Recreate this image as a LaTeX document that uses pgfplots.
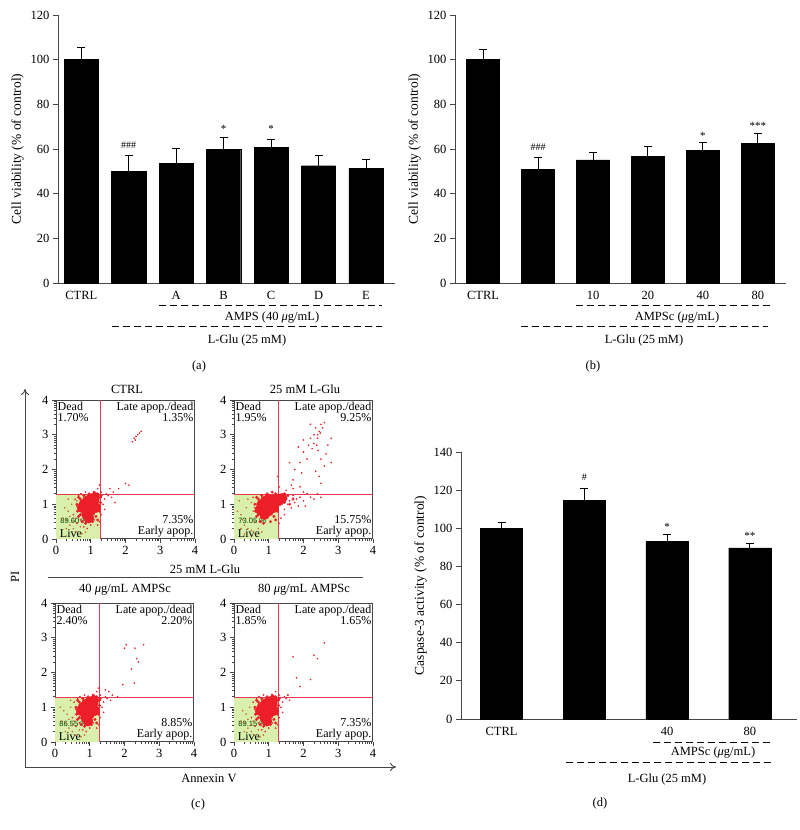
\documentclass[border=0pt]{standalone}
\usepackage{fontspec}
\setmainfont{Liberation Serif}
\newfontfamily\sansf{Liberation Sans}
\usepackage{pgfplots}
\pgfplotsset{compat=1.18}
\usetikzlibrary{arrows.meta}
\definecolor{qred}{RGB}{232,60,80}
\definecolor{dotred}{RGB}{238,30,40}
\definecolor{dotor}{RGB}{205,110,40}
\definecolor{livegreen}{RGB}{216,240,172}
\definecolor{axgray}{RGB}{70,70,70}
\newcommand{\mainfont}{\fontsize{12.5}{14}\selectfont}
\newcommand{\qfont}{\fontsize{12}{11.6}\selectfont}
\pgfplotsset{
  /pgf/number format/assume math mode=true,
  bars/.style={scale only axis, anchor=south west, ybar, ymin=0,
    axis x line=bottom, axis y line=left,
    axis line style={-, line width=0.9pt, axgray},
    tick align=outside, major tick length=5pt,
    ytick style={line width=0.9pt, axgray},
    xtick style={draw=none},
    clip=false,
    tick label style={font=\mainfont},
    label style={font=\fontsize{13.5}{15}\selectfont},
  },
  errb/.style={fill=black, draw=black,
    error bars/.cd, y dir=plus, y explicit,
    error bar style={line width=1pt, black},
    error mark options={rotate=90, mark size=4pt, line width=1pt, black}},
  facs/.style={scale only axis, anchor=south west, width=139pt, height=139pt,
    xmin=0, xmax=4, ymin=0, ymax=4,
    xtick={0,1,2,3,4}, ytick={0,1,2,3,4},
    minor xtick={0.301,0.477,0.602,0.699,0.778,0.845,0.903,0.954,1.301,1.477,1.602,1.699,1.778,1.845,1.903,1.954,2.301,2.477,2.602,2.699,2.778,2.845,2.903,2.954,3.301,3.477,3.602,3.699,3.778,3.845,3.903,3.954},
    minor ytick={0.301,0.477,0.602,0.699,0.778,0.845,0.903,0.954,1.301,1.477,1.602,1.699,1.778,1.845,1.903,1.954,2.301,2.477,2.602,2.699,2.778,2.845,2.903,2.954,3.301,3.477,3.602,3.699,3.778,3.845,3.903,3.954},
    tick pos=left, tick align=outside,
    major tick length=4pt, minor tick length=2.5pt,
    axis line style={line width=1pt, axgray},
    every tick/.style={axgray, line width=0.6pt},
    tick label style={font=\mainfont},
  },
  core/.style={only marks, mark=*, mark size=5pt, dotred, mark options={draw=none, fill=dotred}},
  fringe/.style={only marks, mark=*, mark size=1.3pt, dotred, mark options={draw=none, fill=dotred}},
  halo/.style={only marks, mark=*, mark size=0.6pt, dotred, mark options={draw=none, fill=dotred}},
  orng/.style={only marks, mark=*, mark size=0.6pt, dotor, mark options={draw=none, fill=dotor}},
}
\newcommand{\quadbase}{%
  \addplot[fill=livegreen, draw=none] coordinates {(0,0) (1.28,0) (1.28,1.28) (0,1.28)} \closedcycle;
}
\newcommand{\quadlines}[1]{%
  \draw[qred, line width=0.8pt] (axis cs:1.28,0) -- (axis cs:1.28,4);
  \draw[qred, line width=0.8pt] (axis cs:0,1.28) -- (axis cs:4,1.28);
  \draw[qred, line width=1.5pt] (axis cs:0,1.28) -- (axis cs:#1,1.28);
  \draw[qred, line width=1.4pt] (axis cs:1.28,0) -- (axis cs:1.28,1.75);
}
\newcommand{\quadlabels}[4]{%
  \node[anchor=north west, align=left, inner sep=1.5pt, font=\qfont] at (rel axis cs:0,1) {Dead\\#1\%};
  \node[anchor=north east, align=right, inner sep=1.5pt, font=\qfont] at (rel axis cs:1,1) {Late apop./dead\\#2\%};
  \node[anchor=south east, align=right, inner sep=1.5pt, font=\qfont] at (rel axis cs:1,0) {#3\%\\Early apop.};
  \node[anchor=south west, inner sep=1pt, font=\qfont] at (rel axis cs:0.02,0) {Live};
  \node[anchor=south west, inner sep=0pt, font=\sansf\fontsize{7.6}{8}\selectfont, text=green!25!black] at (rel axis cs:0.03,0.11) {#4 \%};
}
\begin{document}
\begin{tikzpicture}[x=1pt, y=1pt, font=\mainfont]
\useasboundingbox (0,0) rectangle (800,830);

% ---------------- (a) ----------------
\begin{axis}[bars, at={(58pt,547pt)}, width=337pt, height=268pt,
  xmin=-0.49, xmax=6.61, ymax=120, ytick={0,20,...,120},
  xtick={0,...,6}, xticklabels={CTRL,,A,B,C,D,E}, bar width=0.72,
  ylabel={Cell viability (\% of control)}]
\addplot[errb] coordinates {
 (0,100) +- (0,5.4)
 (1,49.9) +- (0,7.1)
 (2,53.6) +- (0,6.8)
 (3,59.7) +- (0,5.5)
 (4,60.8) +- (0,3.4)
 (5,52.5) +- (0,4.7)
 (6,51.2) +- (0,3.9)
};
\node[font=\fontsize{10}{10}\selectfont] at (axis cs:1,61.5) {\#\#\#};
\node[font=\fontsize{11}{11}\selectfont] at (axis cs:3,69) {*};
\node[font=\fontsize{11}{11}\selectfont] at (axis cs:4,69) {*};
\end{axis}
\draw[dash pattern=on 7pt off 4pt, line width=0.9pt] (159,525) -- (382,525);
\node at (272,512) {AMPS (40 \textit{μ}g/mL)};
\draw[dash pattern=on 7pt off 4pt, line width=0.9pt] (112,504) -- (382,504);
\node at (247,490) {L-Glu (25 mM)};
\node at (199,464) {(a)};

% ---------------- (b) ----------------
\begin{axis}[bars, at={(455pt,547pt)}, width=331pt, height=268pt,
  xmin=-0.51, xmax=5.51, ymax=120, ytick={0,20,...,120},
  xtick={0,...,5}, xticklabels={CTRL,,10,20,40,80}, bar width=0.6,
  ylabel={Cell viability (\% of control)}]
\addplot[errb] coordinates {
 (0,100) +- (0,4.6)
 (1,51.0) +- (0,5.3)
 (2,55.1) +- (0,3.3)
 (3,56.6) +- (0,4.5)
 (4,59.3) +- (0,3.6)
 (5,62.6) +- (0,4.5)
};
\node[font=\fontsize{10}{10}\selectfont] at (axis cs:1,61) {\#\#\#};
\node[font=\fontsize{11}{11}\selectfont] at (axis cs:4,66) {*};
\node[font=\fontsize{11}{11}\selectfont] at (axis cs:5,70.5) {***};
\end{axis}
\draw[dash pattern=on 7pt off 4pt, line width=0.9pt] (576,525) -- (773,525);
\node at (677,512) {AMPSc (\textit{μ}g/mL)};
\draw[dash pattern=on 7pt off 4pt, line width=0.9pt] (521,504) -- (768,504);
\node at (644,490) {L-Glu (25 mM)};
\node at (593,464) {(b)};

% ---------------- (d) ----------------
\begin{axis}[bars, at={(461pt,111pt)}, width=336pt, height=267pt,
  xmin=-0.49, xmax=3.57, ymax=140, ytick={0,20,...,140},
  xtick={0,...,3}, xticklabels={CTRL,,40,80}, bar width=0.51,
  ylabel={Caspase-3 activity (\% of control)}]
\addplot[errb] coordinates {
 (0,100) +- (0,2.8)
 (1,114.5) +- (0,6.1)
 (2,93.2) +- (0,3.8)
 (3,89.7) +- (0,2.4)
};
\node[font=\fontsize{10}{10}\selectfont] at (axis cs:1,127) {\#};
\node[font=\fontsize{11}{11}\selectfont] at (axis cs:2,100.5) {*};
\node[font=\fontsize{11}{11}\selectfont] at (axis cs:3,96) {**};
\end{axis}
\draw[dash pattern=on 7pt off 4pt, line width=0.9pt] (653,88) -- (773,88);
\node at (713,77) {AMPSc (\textit{μ}g/mL)};
\draw[dash pattern=on 7pt off 4pt, line width=0.9pt] (566,68) -- (772,68);
\node at (667,51) {L-Glu (25 mM)};
\node at (600,27) {(d)};

% ---------------- (c) ----------------
% top-left: CTRL
\begin{axis}[facs, at={(56pt,291pt)}]
\quadbase
\addplot[orng] coordinates {(0.3,0.55) (0.35,0.8) (0.4,0.4) (0.45,1.0) (0.5,0.3) (0.55,0.6) (0.6,0.2) (0.65,0.8) (0.7,0.35) (0.25,0.9) (0.4,0.65) (0.75,0.15) (0.5,0.5) (0.3,0.3) (0.85,0.2) (0.2,0.6) (0.6,1.1) (0.35,1.15)};
\addplot[halo] coordinates {(0.55,1.15) (0.6,0.95) (0.65,1.25) (0.7,0.55) (0.72,1.3) (1.3,1.2) (1.35,1.0) (1.4,1.15) (1.45,1.3) (1.5,1.25) (1.3,0.7) (1.25,0.5) (1.2,0.4) (1.4,0.85) (1.6,1.2) (1.65,1.35) (1.8,1.45) (2.0,1.6) (2.1,1.55) (1.55,1.45) (0.5,0.7) (0.6,0.45) (0.8,0.35) (0.9,0.3) (1.0,0.4) (1.1,0.55) (1.25,1.55) (1.2,1.45) (0.85,1.35) (1.3,1.35) (2.2,2.8) (2.25,2.9) (2.3,2.95) (2.35,3.0) (2.4,3.05) (2.45,3.1) (2.28,2.85) (1.7,1.05)};
\addplot[fringe] coordinates {(0.6,1.0) (0.62,0.8) (0.65,0.65) (0.7,1.15) (0.75,0.5) (0.8,1.25) (0.85,0.45) (0.95,1.3) (1.05,0.5) (1.15,0.65) (1.2,1.3) (1.25,0.8) (1.28,1.05) (1.3,1.25) (0.7,0.7) (1.2,0.55) (0.65,1.2) (1.1,1.35)};
\addplot[core] coordinates {(0.85,0.85) (0.95,0.95) (1.05,1.0) (1.1,1.1) (0.9,1.1) (1.0,0.8) (1.15,0.9) (0.8,1.0) (1.0,1.15) (0.88,0.7) (1.12,1.2) (0.75,0.9) (0.95,0.6)};
\quadlines{2.2}
\quadlabels{1.70}{1.35}{7.35}{89.60}
\end{axis}
% top-right: L-Glu
\begin{axis}[facs, at={(234pt,291pt)}]
\quadbase
\addplot[orng] coordinates {(0.15,1.1) (0.2,0.7) (0.3,0.4) (0.35,0.9) (0.4,1.15) (0.45,0.6) (0.5,0.25) (0.55,0.8) (0.6,0.5) (0.65,1.0) (0.7,0.3) (0.25,0.55) (0.4,0.3) (0.5,1.05) (0.3,0.15) (0.75,0.6) (0.1,0.8) (0.8,0.2) (0.2,0.3) (0.6,0.15)};
\addplot[halo] coordinates {(1.5,1.2) (1.6,1.1) (1.7,1.25) (1.8,1.15) (1.9,1.2) (2.0,1.1) (2.1,1.3) (2.2,1.2) (2.3,1.15) (2.4,1.3) (2.5,1.2) (1.55,1.0) (1.65,0.9) (1.75,1.05) (1.85,0.95) (1.45,0.85) (2.05,0.95) (1.5,1.4) (1.7,1.45) (1.9,1.5) (2.0,1.35) (1.7,1.7) (1.75,2.0) (1.9,2.2) (1.95,1.9) (2.0,2.5) (2.1,2.3) (2.15,2.7) (2.2,2.9) (2.25,2.6) (2.3,3.0) (2.35,3.2) (2.4,2.9) (2.45,3.1) (2.5,3.3) (2.55,3.2) (2.6,3.35) (2.3,2.75) (2.42,2.55) (2.5,2.3) (2.6,2.1) (2.45,1.8) (2.35,1.95) (2.7,2.7) (2.8,2.9) (2.65,2.45) (1.6,2.2) (1.85,2.65) (2.0,2.85) (2.2,3.3) (2.5,1.6) (2.8,2.2) (1.65,1.55) (1.3,1.5) (1.25,1.8) (0.55,1.2) (0.6,0.9) (1.35,0.6) (1.3,0.45) (1.45,0.7) (2.4,3.0) (2.48,3.05) (2.38,2.7)};
\addplot[fringe] coordinates {(0.6,1.0) (0.62,0.8) (0.65,0.65) (0.7,1.15) (0.75,0.5) (0.8,1.25) (0.85,0.45) (0.95,1.3) (1.05,0.5) (1.15,0.65) (1.2,1.3) (1.25,0.8) (1.28,1.05) (1.3,1.25) (0.7,0.7) (1.2,0.55) (0.65,1.2) (1.1,1.35) (1.45,1.05) (1.5,1.15) (1.55,1.25) (1.6,1.0) (1.45,1.3) (1.7,1.15)};
\addplot[core] coordinates {(0.85,0.85) (0.95,0.95) (1.05,1.0) (1.1,1.1) (0.9,1.1) (1.0,0.8) (1.15,0.9) (0.8,1.0) (1.0,1.15) (0.88,0.7) (1.2,1.15) (0.75,0.85) (1.3,1.1) (1.38,1.17)};
\quadlines{2.7}
\quadlabels{1.95}{9.25}{15.75}{73.05}
\end{axis}
% bottom-left: 40 ug/mL
\begin{axis}[facs, at={(55pt,88pt)}]
\quadbase
\addplot[orng] coordinates {(0.3,0.55) (0.35,0.8) (0.4,0.4) (0.45,1.0) (0.5,0.3) (0.55,0.6) (0.6,0.2) (0.65,0.8) (0.7,0.35) (0.25,0.9) (0.4,0.65) (0.75,0.15) (0.5,0.5) (0.3,0.3) (0.85,0.2) (0.2,0.6) (0.15,1.0) (0.45,1.2)};
\addplot[halo] coordinates {(0.55,1.15) (0.6,0.95) (0.65,1.25) (0.7,0.55) (0.72,1.3) (1.3,1.2) (1.35,1.0) (1.4,1.15) (1.45,1.3) (1.5,1.25) (1.3,0.7) (1.25,0.5) (1.2,0.4) (1.4,0.85) (1.6,1.2) (1.65,1.35) (1.8,1.3) (1.55,1.45) (0.5,0.7) (0.6,0.45) (0.8,0.35) (0.9,0.3) (1.0,0.4) (1.1,0.55) (1.25,1.55) (1.2,1.45) (0.85,1.35) (1.3,1.35) (2.0,2.7) (2.05,2.8) (2.3,2.7) (2.55,2.8) (2.35,2.4) (2.2,2.1) (2.28,1.7) (2.4,2.3) (1.45,1.5) (1.95,1.65)};
\addplot[fringe] coordinates {(0.6,1.0) (0.62,0.8) (0.65,0.65) (0.7,1.15) (0.75,0.5) (0.8,1.25) (0.85,0.45) (0.95,1.3) (1.05,0.5) (1.15,0.65) (1.2,1.3) (1.25,0.8) (1.28,1.05) (1.3,1.25) (0.7,0.7) (1.2,0.55) (0.65,1.2) (1.1,1.35)};
\addplot[core] coordinates {(0.85,0.85) (0.95,0.95) (1.05,1.0) (1.1,1.1) (0.9,1.1) (1.0,0.8) (1.15,0.9) (0.8,1.0) (1.0,1.15) (0.88,0.7) (1.12,1.2) (0.75,0.9) (0.95,0.6)};
\quadlines{2.0}
\quadlabels{2.40}{2.20}{8.85}{86.55}
\end{axis}
% bottom-right: 80 ug/mL
\begin{axis}[facs, at={(234pt,88pt)}]
\quadbase
\addplot[orng] coordinates {(0.3,0.55) (0.35,0.8) (0.4,0.4) (0.45,1.0) (0.5,0.3) (0.55,0.6) (0.6,0.2) (0.65,0.8) (0.7,0.35) (0.25,0.9) (0.4,0.65) (0.75,0.15) (0.5,0.5) (0.3,0.3) (0.85,0.2) (0.2,0.6)};
\addplot[halo] coordinates {(0.55,1.15) (0.6,0.95) (0.65,1.25) (0.7,0.55) (0.72,1.3) (1.3,1.2) (1.35,1.0) (1.4,1.15) (1.45,1.3) (1.5,1.25) (1.3,0.7) (1.25,0.5) (1.2,0.4) (1.4,0.85) (1.6,1.2) (1.55,1.35) (0.5,0.7) (0.6,0.45) (0.8,0.35) (0.9,0.3) (1.0,0.4) (1.1,0.55) (1.2,1.45) (0.85,1.35) (1.3,1.35) (2.6,2.85) (2.3,2.5) (2.4,2.4) (1.7,2.45) (1.8,1.85) (1.9,1.6) (2.2,1.8) (1.55,1.35)};
\addplot[fringe] coordinates {(0.6,1.0) (0.62,0.8) (0.65,0.65) (0.7,1.15) (0.75,0.5) (0.8,1.25) (0.85,0.45) (0.95,1.3) (1.05,0.5) (1.15,0.65) (1.2,1.3) (1.25,0.8) (1.28,1.05) (1.3,1.25) (0.7,0.7) (1.2,0.55) (0.65,1.2) (1.1,1.35)};
\addplot[core] coordinates {(0.85,0.85) (0.95,0.95) (1.05,1.0) (1.1,1.1) (0.9,1.1) (1.0,0.8) (1.15,0.9) (0.8,1.0) (1.0,1.15) (0.88,0.7) (1.12,1.2) (0.75,0.9) (0.95,0.6)};
\quadlines{2.2}
\quadlabels{1.85}{1.65}{7.35}{89.15}
\end{axis}
\node at (127,441) {CTRL};
\node at (305,441) {25 mM L-Glu};
\node at (205,261) {25 mM L-Glu};
\draw[line width=0.9pt, axgray] (48,253) -- (363,253);
\node at (125,240) {40 \textit{μ}g/mL AMPSc};
\node at (304,240) {80 \textit{μ}g/mL AMPSc};
\draw[line width=0.9pt, axgray, -{To[length=6pt,width=8pt]}] (25,63) -- (25,441);
\draw[line width=0.9pt, axgray, -{To[length=6pt,width=8pt]}] (25,63) -- (396,63);
\node[rotate=90] at (15,253) {PI};
\node at (209,52) {Annexin V};
\node at (198,26) {(c)};
\end{tikzpicture}
\end{document}
